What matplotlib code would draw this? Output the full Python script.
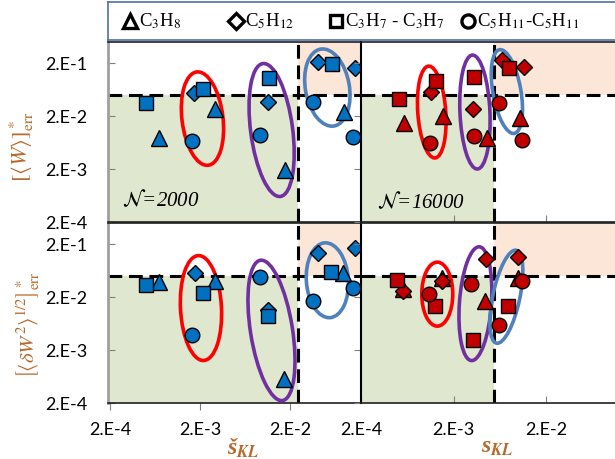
import matplotlib
matplotlib.use("Agg")
import matplotlib.pyplot as plt
import matplotlib.transforms as mtransforms
from matplotlib.patches import Ellipse

plt.rcParams['font.family'] = ['Lato', 'DejaVu Sans']
plt.rcParams['mathtext.fontset'] = 'stix'

# ticks
tick_vals = [2e-4, 2e-3, 2e-2, 2e-1]
tick_labels = ["2.E-4", "2.E-3", "2.E-2", "2.E-1"]

species = ["C$_3$H$_8$", "C$_5$H$_{12}$", "C$_3$H$_7$ - C$_3$H$_7$", "C$_5$H$_{11}$-C$_5$H$_{11}$"]
markers = ["^", "D", "s", "o"]
msizes = [11, 8.5, 9.5, 10.5]

# N=2000, x = s_KL (check), order: C3H8, C5H12, C3H7-C3H7, C5H11-C5H11
n2000_x = [[7.0e-4, 2.94e-3, 0.0177, 0.080],
           [1.73e-3, 0.0115, 0.041, 0.105],
           [5.0e-4, 2.18e-3, 0.0116, 0.058],
           [1.64e-3, 9.4e-3, 0.036, 0.100]]
n2000_w = [[7.6e-3, 0.027, 1.9e-3, 0.0235],
           [0.054, 0.0367, 0.21, 0.159],
           [0.0356, 0.066, 0.105, 0.189],
           [6.8e-3, 8.8e-3, 0.037, 8.1e-3]]
n2000_dx = [[7.0e-4, 2.94e-3, 0.0173, 0.078],
            [1.77e-3, 0.0115, 0.041, 0.105],
            [5.0e-4, 2.18e-3, 0.0115, 0.057],
            [1.64e-3, 9.4e-3, 0.036, 0.0995]]
n2000_dw = [[0.039, 0.041, 5.8e-4, 0.057],
            [0.057, 0.0115, 0.138, 0.170],
            [0.034, 0.024, 8.6e-3, 0.060],
            [3.8e-3, 0.047, 0.017, 0.030]]

# N=16000, x = s_KL
n16000_x = [[5.8e-4, 1.54e-3, 4.6e-3, 0.0103],
            [1.15e-3, 3.24e-3, 6.65e-3, 0.0114],
            [5.1e-4, 1.3e-3, 3.3e-3, 8.0e-3],
            [1.1e-3, 3.3e-3, 6.2e-3, 0.0109]]
n16000_w = [[0.0149, 0.020, 7.6e-3, 0.0186],
            [0.058, 0.027, 0.23, 0.170],
            [0.042, 0.093, 0.110, 0.163],
            [6.1e-3, 8.4e-3, 0.036, 7.0e-3]]
n16000_dx = [[5.7e-4, 1.5e-3, 4.4e-3, 9.8e-3],
             [5.7e-4, 1.5e-3, 4.5e-3, 9.8e-3],
             [4.9e-4, 1.27e-3, 3.24e-3, 7.7e-3],
             [1.07e-3, 3.08e-3, 6.1e-3, 0.0109]]
n16000_dw = [[0.029, 0.045, 0.0166, 0.045],
             [0.026, 0.041, 0.104, 0.116],
             [0.042, 0.0134, 3.1e-3, 0.0134],
             [0.023, 0.036, 6.0e-3, 0.041]]

# thresholds
y_thr = 0.05
x_thr_left = 0.0245
x_thr_right = 0.0054

# ellipses: centre x, centre y, width px, height px, angle deg (red, purple, blue)
ring_colors = ["#ff0000", "#7030a0", "#4f81bd"]
rings_tl = [(2.13e-3, 0.0179, 41, 94, 7), (0.0125, 0.0109, 42, 134, 7.5), (0.052, 0.069, 44, 78, 10)]
rings_tr = [(1.16e-3, 0.0238, 28, 92, 4), (3.39e-3, 0.0238, 30, 114, 2.5), (7.5e-3, 0.058, 28, 85, 10)]
rings_bl = [(2.05e-3, 0.0124, 41, 105, 3), (0.01245, 4.69e-3, 42, 142, 9), (0.052, 0.0415, 42, 75, 4)]
rings_br = [(1.33e-3, 0.0227, 31, 64, 0), (3.43e-3, 0.015, 32, 114, -4), (7.4e-3, 0.0203, 27, 95, -12)]

green = "#dfe7cf"
peach = "#fce6d7"
lab_color = "#b8682a"
ylim = (2e-4, 0.5)

W, H = 615, 459
fig = plt.figure(figsize=(W / 100, H / 100), dpi=100)


def box(l, t, r, b):
    return [l / W, 1 - b / H, (r - l) / W, (b - t) / H]


def panel(ax, xs, ys, color, xlim, xthr, rings, left, bottom):
    ax.set_xscale('log')
    ax.set_yscale('log')
    ax.set_xlim(xlim)
    ax.set_ylim(ylim)
    ax.fill_between([xlim[0], xthr], ylim[0], y_thr, color=green, lw=0, zorder=0)
    ax.fill_between([xthr, xlim[1]], y_thr, ylim[1], color=peach, lw=0, zorder=0)
    ax.axhline(y_thr, color='k', lw=2.2, ls=(0, (4.5, 2.2)), zorder=2)
    ax.axvline(xthr, color='k', lw=2.2, ls=(0, (4.5, 2.2)), zorder=2)
    for x, y, m, s in zip(xs, ys, markers, msizes):
        ax.plot(x, y, ls='none', marker=m, ms=s, mfc=color, mec='k', mew=1.0, zorder=5)
    for (cx, cy, w, h, a), c in zip(rings, ring_colors):
        tr = fig.dpi_scale_trans + mtransforms.ScaledTranslation(cx, cy, ax.transData)
        ax.add_patch(Ellipse((0, 0), w / 100, h / 100, angle=a, transform=tr,
                             fill=False, ec=c, lw=2.6, zorder=4))
    ax.set_xticks([t for t in tick_vals if xlim[0] * 0.999 <= t <= xlim[1]])
    ax.set_xticklabels([l for t, l in zip(tick_vals, tick_labels) if xlim[0] * 0.999 <= t <= xlim[1]])
    ax.set_yticks(tick_vals)
    ax.set_yticklabels(tick_labels)
    ax.minorticks_off()
    ax.tick_params(axis='x', direction='out' if left else 'in', length=5, color='#808080',
                   labelsize=13, pad=9 if left else 14, labelbottom=bottom)
    ax.tick_params(axis='y', direction='in' if left else 'out', length=5, color='#808080',
                   labelsize=13, pad=15, labelleft=left)
    for s in ax.spines.values():
        s.set_color('#202020')
        s.set_linewidth(1.2)
    if left:
        ax.spines['left'].set_color('#a0a0a0')
        ax.spines['left'].set_linewidth(2)
    else:
        ax.spines['left'].set_color('k')
        ax.spines['left'].set_linewidth(1.5)
        ax.spines['right'].set_visible(False)


ax_tl = fig.add_axes(box(108, 42, 361, 222))
ax_bl = fig.add_axes(box(108, 223, 361, 403))
ax_tr = fig.add_axes(box(361, 42, 615, 222))
ax_br = fig.add_axes(box(361, 223, 615, 403))

xl_left = (1.9e-4, 0.123)
xl_right = (2e-4, 0.11)
panel(ax_tl, n2000_x, n2000_w, "#0070c0", xl_left, x_thr_left, rings_tl, True, False)
panel(ax_bl, n2000_dx, n2000_dw, "#0070c0", xl_left, x_thr_left, rings_bl, True, True)
panel(ax_tr, n16000_x, n16000_w, "#c00000", xl_right, x_thr_right, rings_tr, False, False)
panel(ax_br, n16000_dx, n16000_dw, "#c00000", xl_right, x_thr_right, rings_br, False, True)

ax_tl.text(0.055, 0.12, r"$\mathcal{N}$=2000", transform=ax_tl.transAxes, fontsize=15,
           family='Liberation Serif', style='italic', va='center', zorder=6)
ax_tr.text(0.063, 0.11, r"$\mathcal{N}$=16000", transform=ax_tr.transAxes, fontsize=15,
           family='Liberation Serif', style='italic', va='center', zorder=6)

# axis titles
fig.text(22 / W, 1 - 147 / H, r"$[\langle W\rangle]^*_{\mathrm{err}}$", rotation=90,
         ha='center', va='center', fontsize=16, color=lab_color)
fig.text(28 / W, 1 - 325 / H, r"$\left[\langle\delta W^2\rangle^{1/2}\right]^*_{\mathrm{err}}$",
         rotation=90, ha='center', va='center', fontsize=15, color=lab_color)
fig.text(243 / W, 1 - 448 / H, "š$_{\\boldsymbol{KL}}$", ha='center', va='center',
         fontsize=17, color=lab_color, family='Liberation Serif', weight='bold', style='italic')
fig.text(497 / W, 1 - 448 / H, "s$_{\\boldsymbol{KL}}$", ha='center', va='center',
         fontsize=17, color=lab_color, family='Liberation Serif', weight='bold', style='italic')

# legend box
ax_leg = fig.add_axes(box(108, 2, 620, 40))
ax_leg.set_xlim(108, 620)
ax_leg.set_ylim(40, 2)
ax_leg.set_xticks([])
ax_leg.set_yticks([])
for s in ax_leg.spines.values():
    s.set_color('#4f6fa8')
    s.set_linewidth(1.2)
leg_mx = [130, 236, 336, 468]
for mx, m, s, lab in zip(leg_mx, markers, msizes, species):
    ax_leg.plot([mx], [21], ls='none', marker=m, ms=s * 0.9, mfc='white', mec='k', mew=2.4)
    ax_leg.text(mx + 9, 21, lab, family='Liberation Serif', fontsize=13.5, va='center', ha='left')

fig.savefig("out.png", dpi=100)
